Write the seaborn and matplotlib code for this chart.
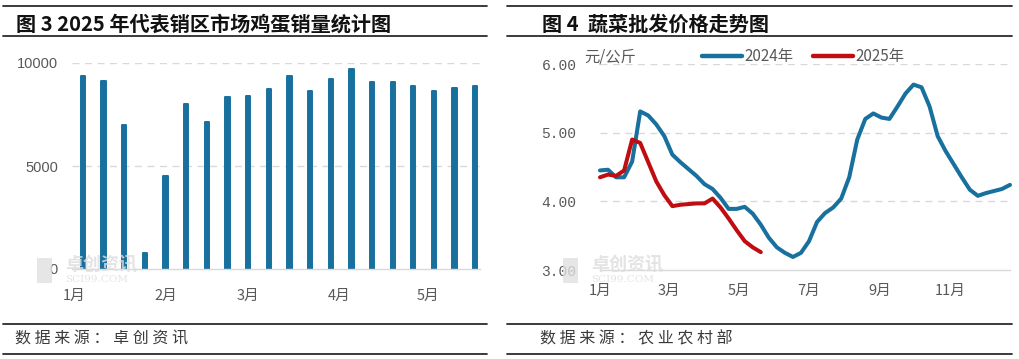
import matplotlib
matplotlib.use("Agg")
import matplotlib.pyplot as plt
import seaborn as sns
import numpy as np
import pandas as pd
from matplotlib.lines import Line2D
from matplotlib.patches import Rectangle

# ---------------- data ----------------
egg_dates = ["2025-01-04", "2025-01-11", "2025-01-18", "2025-01-25", "2025-02-01",
             "2025-02-08", "2025-02-15", "2025-02-22", "2025-03-01", "2025-03-08",
             "2025-03-15", "2025-03-22", "2025-03-29", "2025-04-05", "2025-04-12",
             "2025-04-19", "2025-04-26", "2025-05-03", "2025-05-10", "2025-05-17"]
egg_sales = [9350, 9140, 6990, 780, 4500, 8010, 7150, 8350, 8410, 8720,
             9370, 8640, 9210, 9710, 9060, 9060, 8870, 8660, 8790, 8870]
egg_month_ticks = ["2025-01-01", "2025-02-01", "2025-03-01", "2025-04-01", "2025-05-01"]
egg_month_labels = ["1月", "2月", "3月", "4月", "5月"]
egg_yticks = [0, 5000, 10000]

veg_2024 = [4.45, 4.46, 4.35, 4.35, 4.58, 5.31, 5.25, 5.12, 4.95, 4.68,
            4.57, 4.47, 4.37, 4.25, 4.18, 4.05, 3.89, 3.89, 3.92, 3.82,
            3.66, 3.47, 3.33, 3.25, 3.19, 3.25, 3.42, 3.70, 3.83, 3.91,
            4.04, 4.35, 4.90, 5.20, 5.28, 5.22, 5.20, 5.38, 5.57, 5.70,
            5.66, 5.38, 4.95, 4.73, 4.54, 4.35, 4.17, 4.08, 4.12, 4.15,
            4.18, 4.24]
veg_2025 = [4.35, 4.39, 4.37, 4.45, 4.90, 4.85, 4.57, 4.29, 4.09, 3.93,
            3.95, 3.96, 3.97, 3.97, 4.04, 3.91, 3.75, 3.58, 3.42, 3.33,
            3.26]
veg_series = ["2024年", "2025年"]
veg_month_ticks = ["2024-01-01", "2024-03-01", "2024-05-01", "2024-07-01", "2024-09-01", "2024-11-01"]
veg_month_labels = ["1月", "3月", "5月", "7月", "9月", "11月"]
veg_yticks = [3.0, 4.0, 5.0, 6.0]

BLUE = "#17709d"
RED = "#c00d12"
GRID = "#d9d9d9"
TICK = "#595959"

sns.set_theme(style="white")
plt.rcParams["font.family"] = ["Noto Sans CJK SC", "DejaVu Sans"]

W, H = 1019, 359
fig = plt.figure(figsize=(W / 100, H / 100), dpi=100)


def fx(px):
    return px / W


def fy(py):
    return 1 - py / H


# ---------------- left chart ----------------
df_egg = pd.DataFrame({"day": pd.to_datetime(egg_dates).dayofyear, "sales": egg_sales})
ax1 = fig.add_axes([fx(72), fy(269), fx(480) - fx(72), fy(63) - fy(269)])
sns.barplot(data=df_egg, x="day", y="sales", native_scale=True, width=0.21,
            color=BLUE, saturation=1, errorbar=None, ax=ax1)
for p in ax1.patches:
    p.set_edgecolor(BLUE)
    p.set_linewidth(1.4)
    p.set_joinstyle("round")
ax1.set_xlim(0.3, 138.6)
ax1.set_ylim(0, 10000)
ax1.set_yticks(egg_yticks)
ax1.set_yticklabels([str(v) for v in egg_yticks], family=["Liberation Sans"], fontsize=10.5, color=TICK)
ax1.set_xticks(pd.to_datetime(egg_month_ticks).dayofyear)
ax1.set_xticklabels(egg_month_labels, fontsize=10.5, color=TICK)
ax1.tick_params(axis="y", length=0, pad=10)
ax1.tick_params(axis="x", length=0, pad=14)
ax1.set_xlabel("")
ax1.set_ylabel("")
for y in egg_yticks[1:]:
    ax1.axhline(y, color=GRID, lw=1, ls=(0, (5, 4)), zorder=0)
for s in ["top", "right", "left"]:
    ax1.spines[s].set_visible(False)
ax1.spines["bottom"].set_color(GRID)
ax1.spines["bottom"].set_linewidth(1)

# ---------------- right chart ----------------
d24 = pd.date_range("2024-01-01", periods=len(veg_2024), freq="7D").dayofyear
d25 = pd.date_range("2025-01-01", periods=len(veg_2025), freq="7D").dayofyear
df_veg = pd.DataFrame({
    "day": np.concatenate([d24, d25]),
    "price": veg_2024 + veg_2025,
    "year": [veg_series[0]] * len(veg_2024) + [veg_series[1]] * len(veg_2025),
})
ax2 = fig.add_axes([fx(600), fy(270), fx(1010) - fx(600), fy(64) - fy(270)])
sns.lineplot(data=df_veg, x="day", y="price", hue="year",
             palette={veg_series[0]: BLUE, veg_series[1]: RED},
             linewidth=2.9, ax=ax2)
for ln in ax2.lines:
    ln.set_solid_joinstyle("round")
    ln.set_solid_capstyle("round")
    ln.set_clip_on(False)
ax2.set_xlim(1, 358)
ax2.set_ylim(3, 6)
ax2.set_yticks(veg_yticks)
ax2.set_yticklabels([f"{v:.2f}" for v in veg_yticks], family=["Liberation Mono"], fontsize=10.5, color=TICK)
ax2.set_xticks(pd.to_datetime(veg_month_ticks).dayofyear)
ax2.set_xticklabels(veg_month_labels, fontsize=10.5, color=TICK)
ax2.tick_params(axis="y", length=0, pad=17)
ax2.tick_params(axis="x", length=0, pad=10)
ax2.set_xlabel("")
ax2.set_ylabel("")
for y in veg_yticks[1:]:
    ax2.axhline(y, color=GRID, lw=1, ls=(0, (5, 4)), zorder=0)
for s in ["top", "right", "left"]:
    ax2.spines[s].set_visible(False)
ax2.spines["bottom"].set_color(GRID)
ax2.spines["bottom"].set_linewidth(1)

sns.move_legend(ax2, loc="center", bbox_to_anchor=(fx(803), fy(57)),
                bbox_transform=fig.transFigure, ncol=2, frameon=False, title=None,
                fontsize=11, handlelength=2.6, handletextpad=0.15, columnspacing=1.3,
                borderpad=0, borderaxespad=0)
for t in ax2.get_legend().get_texts():
    t.set_color(TICK)
for h in ax2.get_legend().get_lines():
    h.set_linewidth(3.2)

fig.text(fx(584), fy(57), "元/公斤", fontsize=11, color=TICK, ha="left", va="center")

# ---------------- titles, rules, footers ----------------
def rule(x0, x1, y, lw=1.3):
    fig.add_artist(Line2D([fx(x0), fx(x1)], [fy(y), fy(y)], color="#2b2b2b", lw=lw,
                          transform=fig.transFigure))

for (x0, x1) in [(3, 487), (507, 1012)]:
    rule(x0, x1, 5.5)
    rule(x0, x1, 35.5)
    rule(x0, x1, 323.5)
    rule(x0, x1, 353.5)

fig.text(fx(16), fy(24), "图 3 2025 年代表销区市场鸡蛋销量统计图", fontsize=14.5,
         fontweight="bold", color="#111111", ha="left", va="center")
fig.text(fx(542), fy(24), "图 4  蔬菜批发价格走势图", fontsize=14.5,
         fontweight="bold", color="#111111", ha="left", va="center")
fig.text(fx(15), fy(339), "数 据 来 源 ： 卓 创 资 讯", fontsize=11.5,
         color="#3a3a3a", ha="left", va="center")
fig.text(fx(540), fy(339), "数 据 来 源 ： 农 业 农 村 部", fontsize=11.5,
         color="#3a3a3a", ha="left", va="center")

# watermarks
for x0 in [37, 563]:
    fig.add_artist(Rectangle((fx(x0), fy(283)), fx(15), fy(258) - fy(283),
                             transform=fig.transFigure, color="#e0e0e0", alpha=0.8, lw=0))
    fig.text(fx(x0 + 28), fy(264), "卓创资讯", fontsize=13, color="#dddddd", alpha=0.8,
             ha="left", va="center", fontweight="bold")
    fig.text(fx(x0 + 28), fy(279), "SCI99.COM", fontsize=7.5, color="#dddddd", alpha=0.8,
             ha="left", va="center", family=["DejaVu Serif"])

fig.savefig("out.png", dpi=100, facecolor="white")
